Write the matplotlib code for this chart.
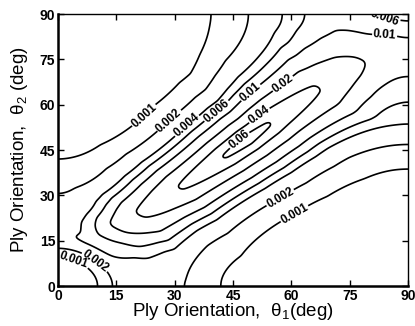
import numpy as np
import matplotlib
matplotlib.use("Agg")
import matplotlib.pyplot as plt

# ---- data ----
tick_vals = [0, 15, 30, 45, 60, 75, 90]
levels = [0.001, 0.002, 0.004, 0.006, 0.01, 0.02, 0.04, 0.06]
level_text = ["0.001", "0.002", "0.004", "0.006", "0.01", "0.02", "0.04", "0.06"]

# ridge description in u = (cos2θ1 + cos2θ2)/2, w = cos2θ1 - cos2θ2
ridge_u   = [-1.0, -0.992, -0.984, -0.97, -0.945, -0.89, -0.835, -0.761, -0.67, -0.30, -0.12, 0.07,
             0.434, 0.706, 0.82, 0.86, 0.90, 0.92, 0.95, 0.97, 1.0]
ridge_val = [0.005, 0.008, 0.010, 0.012, 0.0145, 0.020, 0.025, 0.0305, 0.041, 0.061, 0.066, 0.061,
             0.041, 0.021, 0.0108, 0.0071, 0.0052, 0.0045, 0.0023, 0.00115, 0.0004]

axis_u = [-1.0, -0.992, -0.984, -0.97, -0.945, -0.92, -0.89, -0.835, -0.761, -0.67, -0.30, 0.07,
          0.434, 0.706, 0.75, 0.82, 0.86, 0.90, 1.0]
axis_w = [0.0, -0.016, -0.032, -0.06, -0.10, -0.075, -0.055, -0.045, -0.04, -0.03, -0.02, 0.0,
          0.035, 0.07, 0.08, 0.10, 0.10, 0.08, 0.08]

wup_u = [-1.0, -0.992, -0.984, -0.97, -0.945, -0.89, -0.835, -0.761, -0.713, -0.5625, -0.396, -0.2,
         0.10, 0.56, 0.75, 0.82, 0.86, 0.90, 0.95, 1.0]
wup   = [0.03, 0.07, 0.11, 0.183, 0.31, 0.313, 0.324, 0.345, 0.334, 0.335, 0.333, 0.30,
         0.30, 0.285, 0.245, 0.20, 0.20, 0.18, 0.25, 0.30]

wlo_u = [-1.0, -0.945, -0.89, -0.835, -0.761, -0.646, -0.526, -0.389, 0.06, 0.56, 0.75, 0.82, 0.86, 1.0]
wlo   = [0.20, 0.20, 0.236, 0.268, 0.313, 0.348, 0.337, 0.325, 0.315, 0.318, 0.343, 0.37, 0.40, 0.40]
profile_power = 1.5

label_pos = {
    0.001: [(21, 58), (61, 23.5), (4, 8)],
    0.002: [(28, 55.5), (57, 29.5), (9.5, 8)],
    0.004: [(33.5, 52.5)],
    0.006: [(41, 57.5), (84, 88.5)],
    0.01: [(50.5, 62.7), (84, 83)],
    0.02: [(57.8, 67)],
    0.04: [(52, 56)],
    0.06: [(46.5, 48.5)],
}


def smooth_table(ku, kv, sigma=0.007):
    ug = np.linspace(-1.0, 1.0, 4001)
    v = np.interp(ug, ku, kv)
    step = ug[1] - ug[0]
    half = int(4 * sigma / step)
    k = np.exp(-0.5 * ((np.arange(-half, half + 1) * step) / sigma) ** 2)
    k /= k.sum()
    vp = np.concatenate([np.full(half, v[0]), v, np.full(half, v[-1])])
    return ug, np.convolve(vp, k, mode="valid")


# ---- field ----
th = np.linspace(0, 90, 451)
T1, T2 = np.meshgrid(th, th)
c1 = np.cos(np.radians(2 * T1))
c2 = np.cos(np.radians(2 * T2))
u = (c1 + c2) / 2
w = c1 - c2

ug, w0_t = smooth_table(axis_u, axis_w)
_, la_t = smooth_table(ridge_u, np.log10(ridge_val))
_, wp_t = smooth_table(wup_u, wup)
_, wm_t = smooth_table(wlo_u, wlo)

w0 = np.interp(u, ug, w0_t)
amp = 10 ** np.interp(u, ug, la_t)
dw = w - w0
width = np.where(dw >= 0, np.interp(u, ug, wp_t), np.interp(u, ug, wm_t))
F = amp / (1 + (dw / width) ** 2) ** profile_power

plt.rcParams["font.family"] = ["Liberation Sans", "DejaVu Sans"]
plt.rcParams["mathtext.fontset"] = "custom"
plt.rcParams["mathtext.rm"] = "Liberation Sans"
plt.rcParams["mathtext.it"] = "Liberation Sans:italic"

fig = plt.figure(figsize=(4.15, 3.26), dpi=100)
ax = fig.add_axes([58 / 415, 1 - 286 / 326, 350 / 415, 272 / 326])

for lev, txt in zip(levels, level_text):
    cs = ax.contour(T1, T2, F, levels=[lev], colors="black", linewidths=1.2)
    ax.clabel(cs, fmt={lev: txt}, manual=label_pos[lev], inline=True,
              inline_spacing=1, fontsize=8.5, colors="black")

for t in ax.texts:
    t.set_fontweight("bold")

ax.set_xlim(0, 90)
ax.set_ylim(0, 90)
ax.set_xticks(tick_vals)
ax.set_yticks(tick_vals)
ax.tick_params(direction="in", top=True, right=True, length=4, width=1,
               labelsize=10, pad=2)
for lab in ax.get_xticklabels() + ax.get_yticklabels():
    lab.set_fontweight("bold")
ax.spines["left"].set_linewidth(1.8)
ax.spines["bottom"].set_linewidth(1.8)
ax.spines["top"].set_linewidth(1.0)
ax.spines["right"].set_linewidth(1.0)

ax.set_xlabel(r"Ply Orientation,  $\mathrm{\theta}_1$(deg)", fontsize=13.5, labelpad=-1)
ax.set_ylabel(r"Ply Orientation,  $\mathrm{\theta}_2$ (deg)", fontsize=13.5, labelpad=7)

fig.savefig("out.png", dpi=100)
